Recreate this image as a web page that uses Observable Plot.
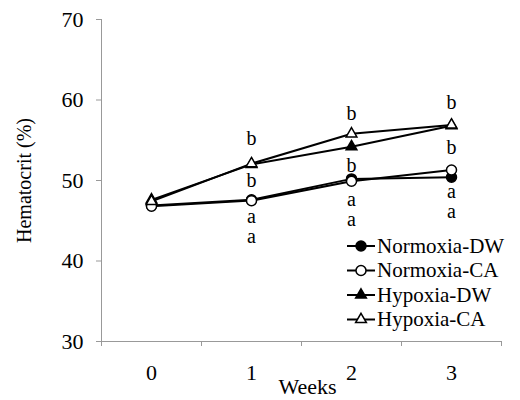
<!DOCTYPE html>
<html><head><meta charset="utf-8">
<script src="https://cdn.jsdelivr.net/npm/d3@7"></script>
<script src="https://cdn.jsdelivr.net/npm/@observablehq/plot@0.6"></script>
<style>body{margin:0;background:#fff}</style>
</head><body><div id="chart"></div>
<script>
const weeks = [0, 1, 2, 3];
const seriesNames = ["Normoxia-DW", "Normoxia-CA", "Hypoxia-DW", "Hypoxia-CA"];
const normoxiaDW = [46.9, 47.6, 50.2, 50.4];
const normoxiaCA = [46.8, 47.5, 49.9, 51.3];
const hypoxiaDW = [47.6, 52.0, 54.2, 56.8];
const hypoxiaCA = [47.4, 52.1, 55.8, 56.9];
const symbols = ["circle", "circle", "triangle", "triangle"];
const fills = ["black", "white", "black", "white"];
const yTicks = [30, 40, 50, 60, 70];
const letterWeeks = [1, 1, 1, 1, 2, 2, 2, 2, 3, 3, 3, 3];
const letters = ["b", "b", "a", "a", "b", "b", "a", "a", "b", "b", "a", "a"];
const letterY = [55.2, 50.0, 45.5, 43.0, 58.3, 51.9, 47.6, 45.1, 59.7, 54.1, 48.6, 46.1];
const xTitle = "Weeks";
const yTitle = "Hematocrit (%)";

const allValues = [normoxiaDW, normoxiaCA, hypoxiaDW, hypoxiaCA];
const font = "'Liberation Serif', 'Times New Roman', serif";

const seriesMarks = seriesNames.flatMap((name, i) => {
  const rows = weeks.map((w, j) => ({week: w, value: allValues[i][j]}));
  return [
    Plot.line(rows, {x: "week", y: "value", stroke: "black", strokeWidth: 2}),
    Plot.dot(rows, {x: "week", y: "value", symbol: symbols[i], fill: fills[i], stroke: "black", strokeWidth: 1.5, r: symbols[i] === "circle" ? 5 : 4})
  ];
});

const letterRows = letters.map((t, i) => ({week: letterWeeks[i], y: letterY[i], t}));

const plot = Plot.plot({
  width: 520, height: 400,
  marginLeft: 101, marginRight: 19, marginTop: 19, marginBottom: 59,
  x: {domain: [-0.5, 3.5]},
  y: {domain: [30, 70]},
  style: {fontFamily: font, fontSize: "22px", color: "black", background: "white"},
  marks: [
    Plot.ruleX([-0.5], {stroke: "#999", strokeWidth: 1}),
    Plot.ruleY([30], {stroke: "#999", strokeWidth: 1}),
    Plot.axisY({ticks: yTicks, tickSize: 5, tickPadding: 13, stroke: "#999", fill: "black", label: null}),
    Plot.axisY({ticks: [], label: yTitle, labelAnchor: "center", labelOffset: 85, labelArrow: "none", fontSize: 20}),
    Plot.axisX({ticks: [-0.5, 0.5, 1.5, 2.5, 3.5], tickSize: 5, tickFormat: () => "", stroke: "#999", label: null}),
    Plot.axisX({ticks: weeks, tickSize: 0, tickPadding: 23, tickFormat: d3.format("d"), fill: "black", label: null}),
    Plot.text([xTitle], {frameAnchor: "bottom", lineAnchor: "bottom", dy: 52, dx: 6, fontSize: 22, fill: "black"}),
    ...seriesMarks,
    Plot.text(letterRows, {x: "week", y: "y", text: "t", fontSize: 20, fill: "black"})
  ]
});

// Legend inside the plot area
const svg = d3.select(plot);
const lg = svg.append("g").attr("transform", "translate(347,246)");
seriesNames.forEach((name, i) => {
  const g = lg.append("g").attr("transform", `translate(0,${i * 24.5})`);
  g.append("line").attr("x1", 0).attr("x2", 28).attr("y1", 0).attr("y2", 0).attr("stroke", "black").attr("stroke-width", 2);
  const sym = symbols[i] === "circle" ? d3.symbolCircle : d3.symbolTriangle;
  const size = symbols[i] === "circle" ? Math.PI * 25 : Math.PI * 16;
  g.append("path").attr("d", d3.symbol(sym, size)()).attr("transform", "translate(14,0)")
    .attr("fill", fills[i]).attr("stroke", "black").attr("stroke-width", 1.5);
  g.append("text").attr("x", 30).attr("y", 0).attr("dy", "0.32em").attr("text-anchor", "start")
    .attr("font-family", font).attr("font-size", 21).attr("fill", "black").text(name);
});

document.getElementById("chart").appendChild(plot);
</script>
</body></html>
